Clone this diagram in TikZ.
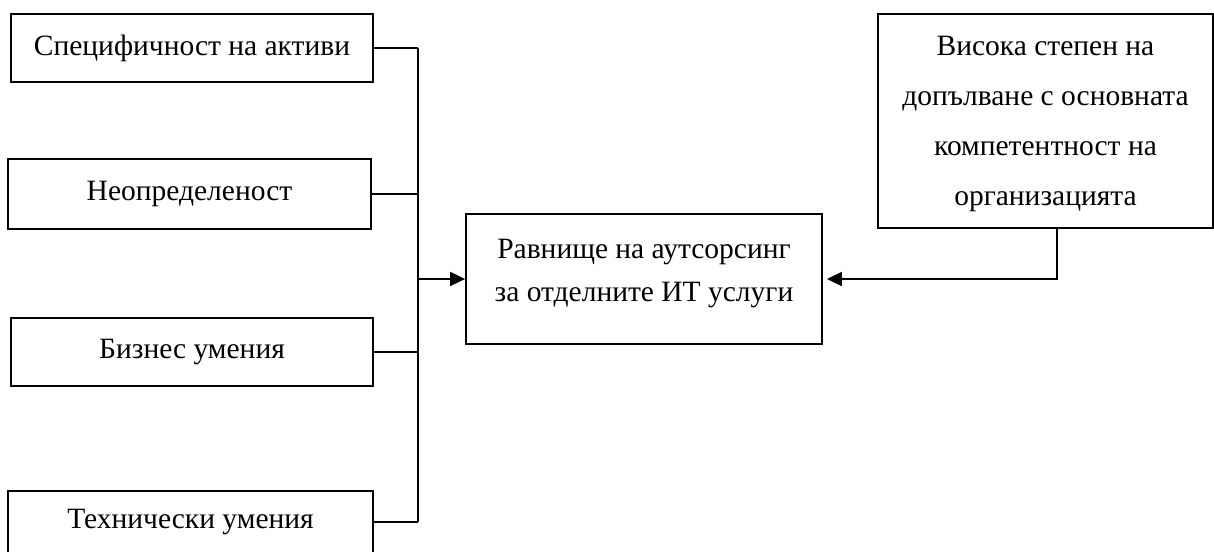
\documentclass[tikz,border=0pt]{standalone}
\usepackage{fontspec}
\setmainfont{Liberation Serif}
\usetikzlibrary{arrows.meta}
\begin{document}
\begin{tikzpicture}[x=1pt,y=-1pt,
  box/.style={draw,line width=1.8pt,inner sep=0pt,align=center,
    font=\fontsize{29.5}{43}\selectfont},
  link/.style={line width=1.8pt},
  arr/.style={line width=1.8pt,-{Triangle[length=15pt,width=14pt]}}]
\useasboundingbox (0,0) rectangle (1214,551);
\clip (0,0) rectangle (1214,551);
\node[box,minimum width=362pt,minimum height=68pt] (b1) at (192,48) {Специфичност на активи};
\node[box,minimum width=363pt,minimum height=70pt] (b2) at (189.5,194) {Неопределеност};
\node[box,minimum width=362pt,minimum height=68pt] (b3) at (192,352) {Бизнес умения};
\node[box,minimum width=365pt,minimum height=62pt] (b4) at (190.5,522) {Технически умения};
\node[box,minimum width=356pt,minimum height=130pt] (c) at (644,279) {};
\node[font=\fontsize{29.5}{43}\selectfont,align=center] (ct) at (644,274) {Равнище на аутсорсинг\\за отделните ИТ услуги};
\node[box,minimum width=335pt,minimum height=214pt,font=\fontsize{29.5}{50}\selectfont] (r) at (1045.5,121) {};
\node[font=\fontsize{29.5}{50}\selectfont,align=center] (rt) at (1045.5,124) {Висока степен на\\допълване с основната\\компетентност на\\организацията};
\coordinate (trunk) at (418,0);
\coordinate (rx) at (1057,0);
\draw[link] (b1.east) -- (b1.east -| trunk);
\draw[link] (b2.east) -- (b2.east -| trunk);
\draw[link] (b3.east) -- (b3.east -| trunk);
\draw[link] (b4.east) -- (b4.east -| trunk);
\draw[link] (b1.east -| trunk) -- (b4.east -| trunk);
\draw[arr] (c.west -| trunk) -- (c.west);
\draw[arr,shorten >=4pt] (r.south -| rx) -- (rx |- c.east) -- (c.east);
\end{tikzpicture}
\end{document}
